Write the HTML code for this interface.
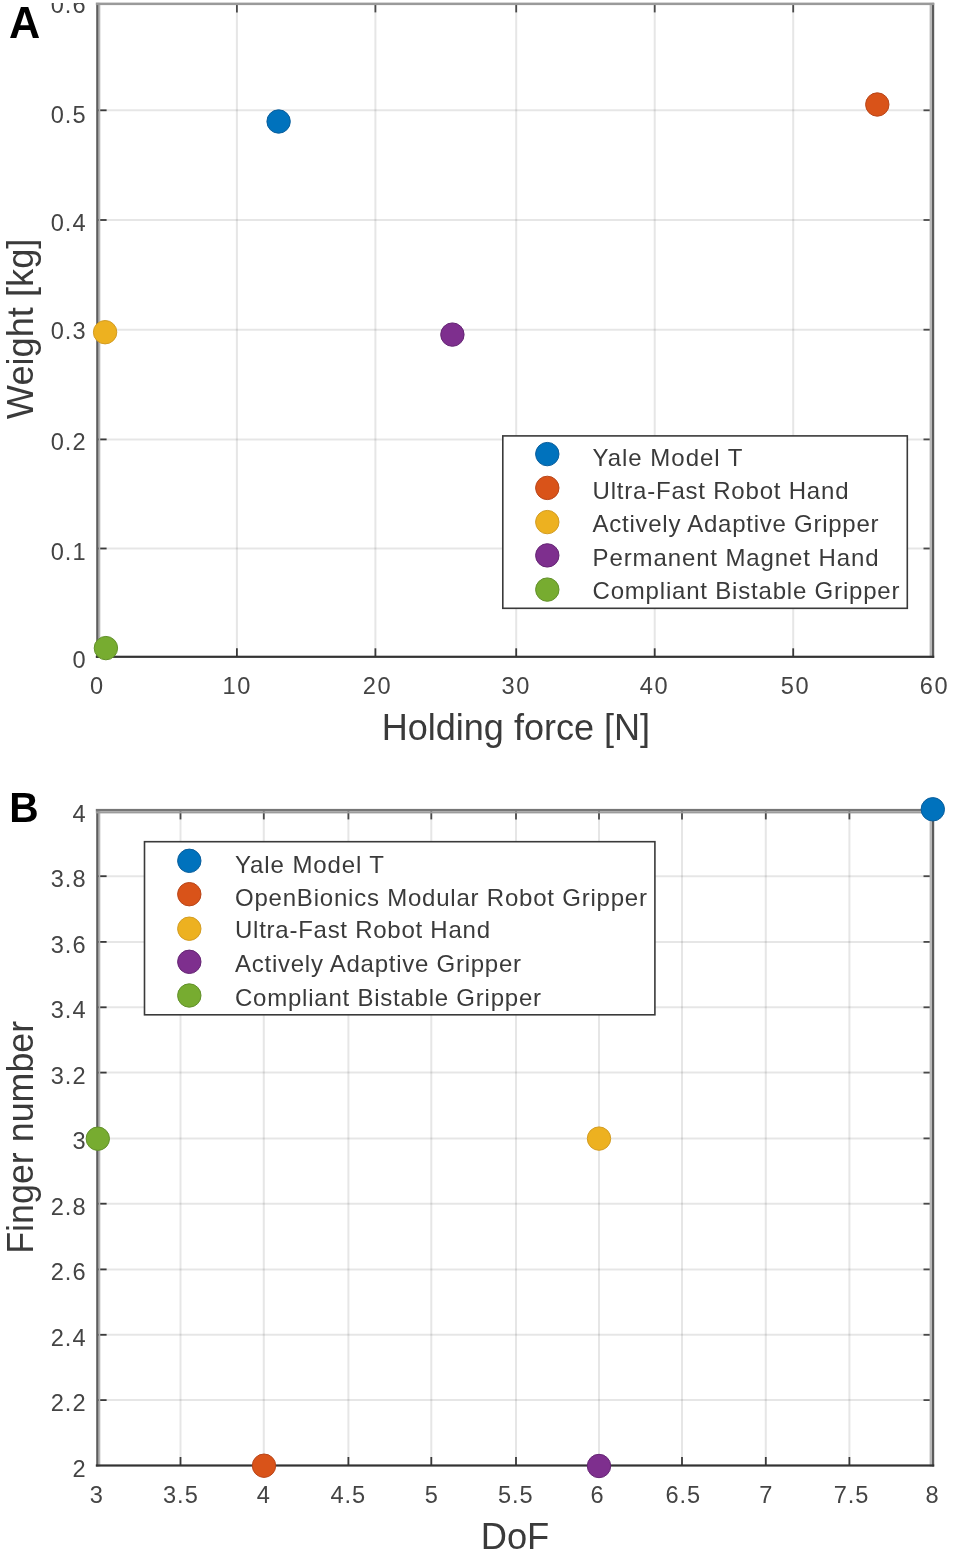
<!DOCTYPE html>
<html><head><meta charset="utf-8"><title>Gripper comparison charts</title>
<style>
html,body{margin:0;padding:0;background:#fff;}
body{width:955px;height:1562px;overflow:hidden;}
svg{display:block;font-family:"Liberation Sans", sans-serif;filter:blur(0.45px);}
</style></head>
<body>
<svg width="955" height="1562" viewBox="0 0 955 1562">
<rect width="955" height="1562" fill="#fff"/>
<line x1="236.9" y1="3.9" x2="236.9" y2="656.8" stroke="#262626" stroke-opacity="0.115" stroke-width="2"/>
<line x1="375.4" y1="3.9" x2="375.4" y2="656.8" stroke="#262626" stroke-opacity="0.115" stroke-width="2"/>
<line x1="516.2" y1="3.9" x2="516.2" y2="656.8" stroke="#262626" stroke-opacity="0.115" stroke-width="2"/>
<line x1="654.7" y1="3.9" x2="654.7" y2="656.8" stroke="#262626" stroke-opacity="0.115" stroke-width="2"/>
<line x1="793.2" y1="3.9" x2="793.2" y2="656.8" stroke="#262626" stroke-opacity="0.115" stroke-width="2"/>
<line x1="98.1" y1="110.3" x2="932.0" y2="110.3" stroke="#262626" stroke-opacity="0.115" stroke-width="2"/>
<line x1="98.1" y1="220" x2="932.0" y2="220" stroke="#262626" stroke-opacity="0.115" stroke-width="2"/>
<line x1="98.1" y1="329.7" x2="932.0" y2="329.7" stroke="#262626" stroke-opacity="0.115" stroke-width="2"/>
<line x1="98.1" y1="439.4" x2="932.0" y2="439.4" stroke="#262626" stroke-opacity="0.115" stroke-width="2"/>
<line x1="98.1" y1="548.5" x2="932.0" y2="548.5" stroke="#262626" stroke-opacity="0.115" stroke-width="2"/>
<line x1="236.9" y1="656.8" x2="236.9" y2="648.3" stroke="#3a3a3a" stroke-width="1.8"/>
<line x1="236.9" y1="3.9" x2="236.9" y2="12.4" stroke="#4a4a4a" stroke-width="1.8"/>
<line x1="375.4" y1="656.8" x2="375.4" y2="648.3" stroke="#3a3a3a" stroke-width="1.8"/>
<line x1="375.4" y1="3.9" x2="375.4" y2="12.4" stroke="#4a4a4a" stroke-width="1.8"/>
<line x1="516.2" y1="656.8" x2="516.2" y2="648.3" stroke="#3a3a3a" stroke-width="1.8"/>
<line x1="516.2" y1="3.9" x2="516.2" y2="12.4" stroke="#4a4a4a" stroke-width="1.8"/>
<line x1="654.7" y1="656.8" x2="654.7" y2="648.3" stroke="#3a3a3a" stroke-width="1.8"/>
<line x1="654.7" y1="3.9" x2="654.7" y2="12.4" stroke="#4a4a4a" stroke-width="1.8"/>
<line x1="793.2" y1="656.8" x2="793.2" y2="648.3" stroke="#3a3a3a" stroke-width="1.8"/>
<line x1="793.2" y1="3.9" x2="793.2" y2="12.4" stroke="#4a4a4a" stroke-width="1.8"/>
<line x1="98.1" y1="110.3" x2="106.6" y2="110.3" stroke="#3a3a3a" stroke-width="1.8"/>
<line x1="932.0" y1="110.3" x2="923.5" y2="110.3" stroke="#4a4a4a" stroke-width="1.8"/>
<line x1="98.1" y1="220" x2="106.6" y2="220" stroke="#3a3a3a" stroke-width="1.8"/>
<line x1="932.0" y1="220" x2="923.5" y2="220" stroke="#4a4a4a" stroke-width="1.8"/>
<line x1="98.1" y1="329.7" x2="106.6" y2="329.7" stroke="#3a3a3a" stroke-width="1.8"/>
<line x1="932.0" y1="329.7" x2="923.5" y2="329.7" stroke="#4a4a4a" stroke-width="1.8"/>
<line x1="98.1" y1="439.4" x2="106.6" y2="439.4" stroke="#3a3a3a" stroke-width="1.8"/>
<line x1="932.0" y1="439.4" x2="923.5" y2="439.4" stroke="#4a4a4a" stroke-width="1.8"/>
<line x1="98.1" y1="548.5" x2="106.6" y2="548.5" stroke="#3a3a3a" stroke-width="1.8"/>
<line x1="932.0" y1="548.5" x2="923.5" y2="548.5" stroke="#4a4a4a" stroke-width="1.8"/>
<rect x="96.19999999999999" y="2.9" width="2.5" height="654.9" fill="#5e5e5e"/>
<rect x="98.69999999999999" y="2.9" width="1.6" height="654.9" fill="#b4b4b4"/>
<rect x="929.6" y="2.9" width="2.4" height="654.9" fill="#b8b8b8"/>
<rect x="932.0" y="2.9" width="2.2" height="654.9" fill="#5c5c5c"/>
<rect x="95.8" y="2.6" width="838.4" height="2.5" fill="#9a9a9a"/>
<rect x="95.8" y="655.6999999999999" width="838.4" height="2.2" fill="#333"/>
<defs><clipPath id="topclip"><rect x="0" y="3" width="955" height="100"/></clipPath></defs>
<text x="85.5" y="13.4" font-size="23.6" text-anchor="end" font-weight="normal" fill="#444" textLength="34.77" lengthAdjust="spacing" clip-path="url(#topclip)">0.6</text>
<text x="85.5" y="122.8" font-size="23.6" text-anchor="end" font-weight="normal" fill="#444" textLength="34.77" lengthAdjust="spacing">0.5</text>
<text x="85.5" y="231.2" font-size="23.6" text-anchor="end" font-weight="normal" fill="#444" textLength="34.77" lengthAdjust="spacing">0.4</text>
<text x="85.5" y="339.4" font-size="23.6" text-anchor="end" font-weight="normal" fill="#444" textLength="34.77" lengthAdjust="spacing">0.3</text>
<text x="85.5" y="450" font-size="23.6" text-anchor="end" font-weight="normal" fill="#444" textLength="34.77" lengthAdjust="spacing">0.2</text>
<text x="85.5" y="560" font-size="23.6" text-anchor="end" font-weight="normal" fill="#444" textLength="34.77" lengthAdjust="spacing">0.1</text>
<text x="85.5" y="668.2" font-size="23.6" text-anchor="end" font-weight="normal" fill="#444">0</text>
<text x="96.5" y="694.2" font-size="23.6" text-anchor="middle" font-weight="normal" fill="#444">0</text>
<text x="236.4" y="694.2" font-size="23.6" text-anchor="middle" font-weight="normal" fill="#444" textLength="27.82" lengthAdjust="spacing">10</text>
<text x="376.7" y="694.2" font-size="23.6" text-anchor="middle" font-weight="normal" fill="#444" textLength="27.82" lengthAdjust="spacing">20</text>
<text x="515.5" y="694.2" font-size="23.6" text-anchor="middle" font-weight="normal" fill="#444" textLength="27.82" lengthAdjust="spacing">30</text>
<text x="653.6" y="694.2" font-size="23.6" text-anchor="middle" font-weight="normal" fill="#444" textLength="27.82" lengthAdjust="spacing">40</text>
<text x="794.7" y="694.2" font-size="23.6" text-anchor="middle" font-weight="normal" fill="#444" textLength="27.82" lengthAdjust="spacing">50</text>
<text x="933.6" y="694.2" font-size="23.6" text-anchor="middle" font-weight="normal" fill="#444" textLength="27.82" lengthAdjust="spacing">60</text>
<text x="515.9" y="740.4" font-size="36.3" text-anchor="middle" font-weight="normal" fill="#3a3a3a" textLength="268.5" lengthAdjust="spacingAndGlyphs">Holding force [N]</text>
<text transform="translate(32.6,328.9) rotate(-90)" font-size="36.3" text-anchor="middle" fill="#3a3a3a" textLength="180.5" lengthAdjust="spacingAndGlyphs">Weight [kg]</text>
<text x="9.0" y="37.9" font-size="43.5" text-anchor="start" font-weight="bold" fill="#000" textLength="31.2" lengthAdjust="spacingAndGlyphs">A</text>
<circle cx="278.6" cy="121.5" r="11.7" fill="#0072BD" stroke="#0a5e9c" stroke-width="1"/>
<circle cx="877.3" cy="104.5" r="11.7" fill="#D95319" stroke="#b9461a" stroke-width="1"/>
<circle cx="105.1" cy="332.2" r="11.7" fill="#EDB120" stroke="#d39c22" stroke-width="1"/>
<circle cx="452.4" cy="334.6" r="11.7" fill="#7E2F8E" stroke="#652574" stroke-width="1"/>
<circle cx="105.9" cy="648.1" r="11.7" fill="#77AC30" stroke="#62902a" stroke-width="1"/>
<rect x="502.8" y="435.9" width="404.49999999999994" height="172.39999999999998" fill="#fff" stroke="#3a3a3a" stroke-width="1.6"/>
<circle cx="547.3" cy="454.1" r="11.7" fill="#0072BD" stroke="#0a5e9c" stroke-width="1"/>
<text x="592.5" y="466.4" font-size="24" text-anchor="start" font-weight="normal" fill="#3a3a3a" textLength="150" lengthAdjust="spacing">Yale Model T</text>
<circle cx="547.3" cy="487.9" r="11.7" fill="#D95319" stroke="#b9461a" stroke-width="1"/>
<text x="592.5" y="499.2" font-size="24" text-anchor="start" font-weight="normal" fill="#3a3a3a" textLength="256" lengthAdjust="spacing">Ultra-Fast Robot Hand</text>
<circle cx="547.3" cy="522.1" r="11.7" fill="#EDB120" stroke="#d39c22" stroke-width="1"/>
<text x="592.5" y="532" font-size="24" text-anchor="start" font-weight="normal" fill="#3a3a3a" textLength="286" lengthAdjust="spacing">Actively Adaptive Gripper</text>
<circle cx="547.3" cy="555.4" r="11.7" fill="#7E2F8E" stroke="#652574" stroke-width="1"/>
<text x="592.5" y="566.2" font-size="24" text-anchor="start" font-weight="normal" fill="#3a3a3a" textLength="286" lengthAdjust="spacing">Permanent Magnet Hand</text>
<circle cx="547.3" cy="589.6" r="11.7" fill="#77AC30" stroke="#62902a" stroke-width="1"/>
<text x="592.5" y="599" font-size="24" text-anchor="start" font-weight="normal" fill="#3a3a3a" textLength="307" lengthAdjust="spacing">Compliant Bistable Gripper</text>
<line x1="180.5" y1="810.9" x2="180.5" y2="1465.5" stroke="#262626" stroke-opacity="0.115" stroke-width="2"/>
<line x1="263.8" y1="810.9" x2="263.8" y2="1465.5" stroke="#262626" stroke-opacity="0.115" stroke-width="2"/>
<line x1="348.4" y1="810.9" x2="348.4" y2="1465.5" stroke="#262626" stroke-opacity="0.115" stroke-width="2"/>
<line x1="431.3" y1="810.9" x2="431.3" y2="1465.5" stroke="#262626" stroke-opacity="0.115" stroke-width="2"/>
<line x1="516.0" y1="810.9" x2="516.0" y2="1465.5" stroke="#262626" stroke-opacity="0.115" stroke-width="2"/>
<line x1="599.0" y1="810.9" x2="599.0" y2="1465.5" stroke="#262626" stroke-opacity="0.115" stroke-width="2"/>
<line x1="682.0" y1="810.9" x2="682.0" y2="1465.5" stroke="#262626" stroke-opacity="0.115" stroke-width="2"/>
<line x1="765.8" y1="810.9" x2="765.8" y2="1465.5" stroke="#262626" stroke-opacity="0.115" stroke-width="2"/>
<line x1="849.4" y1="810.9" x2="849.4" y2="1465.5" stroke="#262626" stroke-opacity="0.115" stroke-width="2"/>
<line x1="98.1" y1="876.2" x2="932.0" y2="876.2" stroke="#262626" stroke-opacity="0.115" stroke-width="2"/>
<line x1="98.1" y1="941.9" x2="932.0" y2="941.9" stroke="#262626" stroke-opacity="0.115" stroke-width="2"/>
<line x1="98.1" y1="1007.3" x2="932.0" y2="1007.3" stroke="#262626" stroke-opacity="0.115" stroke-width="2"/>
<line x1="98.1" y1="1072.6" x2="932.0" y2="1072.6" stroke="#262626" stroke-opacity="0.115" stroke-width="2"/>
<line x1="98.1" y1="1138.4" x2="932.0" y2="1138.4" stroke="#262626" stroke-opacity="0.115" stroke-width="2"/>
<line x1="98.1" y1="1203.7" x2="932.0" y2="1203.7" stroke="#262626" stroke-opacity="0.115" stroke-width="2"/>
<line x1="98.1" y1="1269.4" x2="932.0" y2="1269.4" stroke="#262626" stroke-opacity="0.115" stroke-width="2"/>
<line x1="98.1" y1="1334.8" x2="932.0" y2="1334.8" stroke="#262626" stroke-opacity="0.115" stroke-width="2"/>
<line x1="98.1" y1="1400.1" x2="932.0" y2="1400.1" stroke="#262626" stroke-opacity="0.115" stroke-width="2"/>
<line x1="180.5" y1="1465.5" x2="180.5" y2="1457.0" stroke="#3a3a3a" stroke-width="1.8"/>
<line x1="180.5" y1="810.9" x2="180.5" y2="819.4" stroke="#4a4a4a" stroke-width="1.8"/>
<line x1="263.8" y1="1465.5" x2="263.8" y2="1457.0" stroke="#3a3a3a" stroke-width="1.8"/>
<line x1="263.8" y1="810.9" x2="263.8" y2="819.4" stroke="#4a4a4a" stroke-width="1.8"/>
<line x1="348.4" y1="1465.5" x2="348.4" y2="1457.0" stroke="#3a3a3a" stroke-width="1.8"/>
<line x1="348.4" y1="810.9" x2="348.4" y2="819.4" stroke="#4a4a4a" stroke-width="1.8"/>
<line x1="431.3" y1="1465.5" x2="431.3" y2="1457.0" stroke="#3a3a3a" stroke-width="1.8"/>
<line x1="431.3" y1="810.9" x2="431.3" y2="819.4" stroke="#4a4a4a" stroke-width="1.8"/>
<line x1="516.0" y1="1465.5" x2="516.0" y2="1457.0" stroke="#3a3a3a" stroke-width="1.8"/>
<line x1="516.0" y1="810.9" x2="516.0" y2="819.4" stroke="#4a4a4a" stroke-width="1.8"/>
<line x1="599.0" y1="1465.5" x2="599.0" y2="1457.0" stroke="#3a3a3a" stroke-width="1.8"/>
<line x1="599.0" y1="810.9" x2="599.0" y2="819.4" stroke="#4a4a4a" stroke-width="1.8"/>
<line x1="682.0" y1="1465.5" x2="682.0" y2="1457.0" stroke="#3a3a3a" stroke-width="1.8"/>
<line x1="682.0" y1="810.9" x2="682.0" y2="819.4" stroke="#4a4a4a" stroke-width="1.8"/>
<line x1="765.8" y1="1465.5" x2="765.8" y2="1457.0" stroke="#3a3a3a" stroke-width="1.8"/>
<line x1="765.8" y1="810.9" x2="765.8" y2="819.4" stroke="#4a4a4a" stroke-width="1.8"/>
<line x1="849.4" y1="1465.5" x2="849.4" y2="1457.0" stroke="#3a3a3a" stroke-width="1.8"/>
<line x1="849.4" y1="810.9" x2="849.4" y2="819.4" stroke="#4a4a4a" stroke-width="1.8"/>
<line x1="98.1" y1="876.2" x2="106.6" y2="876.2" stroke="#3a3a3a" stroke-width="1.8"/>
<line x1="932.0" y1="876.2" x2="923.5" y2="876.2" stroke="#4a4a4a" stroke-width="1.8"/>
<line x1="98.1" y1="941.9" x2="106.6" y2="941.9" stroke="#3a3a3a" stroke-width="1.8"/>
<line x1="932.0" y1="941.9" x2="923.5" y2="941.9" stroke="#4a4a4a" stroke-width="1.8"/>
<line x1="98.1" y1="1007.3" x2="106.6" y2="1007.3" stroke="#3a3a3a" stroke-width="1.8"/>
<line x1="932.0" y1="1007.3" x2="923.5" y2="1007.3" stroke="#4a4a4a" stroke-width="1.8"/>
<line x1="98.1" y1="1072.6" x2="106.6" y2="1072.6" stroke="#3a3a3a" stroke-width="1.8"/>
<line x1="932.0" y1="1072.6" x2="923.5" y2="1072.6" stroke="#4a4a4a" stroke-width="1.8"/>
<line x1="98.1" y1="1138.4" x2="106.6" y2="1138.4" stroke="#3a3a3a" stroke-width="1.8"/>
<line x1="932.0" y1="1138.4" x2="923.5" y2="1138.4" stroke="#4a4a4a" stroke-width="1.8"/>
<line x1="98.1" y1="1203.7" x2="106.6" y2="1203.7" stroke="#3a3a3a" stroke-width="1.8"/>
<line x1="932.0" y1="1203.7" x2="923.5" y2="1203.7" stroke="#4a4a4a" stroke-width="1.8"/>
<line x1="98.1" y1="1269.4" x2="106.6" y2="1269.4" stroke="#3a3a3a" stroke-width="1.8"/>
<line x1="932.0" y1="1269.4" x2="923.5" y2="1269.4" stroke="#4a4a4a" stroke-width="1.8"/>
<line x1="98.1" y1="1334.8" x2="106.6" y2="1334.8" stroke="#3a3a3a" stroke-width="1.8"/>
<line x1="932.0" y1="1334.8" x2="923.5" y2="1334.8" stroke="#4a4a4a" stroke-width="1.8"/>
<line x1="98.1" y1="1400.1" x2="106.6" y2="1400.1" stroke="#3a3a3a" stroke-width="1.8"/>
<line x1="932.0" y1="1400.1" x2="923.5" y2="1400.1" stroke="#4a4a4a" stroke-width="1.8"/>
<rect x="96.19999999999999" y="809.9" width="2.5" height="656.6" fill="#5e5e5e"/>
<rect x="98.69999999999999" y="809.9" width="1.6" height="656.6" fill="#b4b4b4"/>
<rect x="929.6" y="809.9" width="2.4" height="656.6" fill="#b8b8b8"/>
<rect x="932.0" y="809.9" width="2.2" height="656.6" fill="#5c5c5c"/>
<rect x="95.8" y="808.9" width="838.4" height="2.4" fill="#767676"/>
<rect x="95.8" y="811.3" width="838.4" height="2.1" fill="#9c9c9c"/>
<rect x="95.8" y="1464.4" width="838.4" height="2.2" fill="#333"/>
<text x="85.5" y="821.6" font-size="23.6" text-anchor="end" font-weight="normal" fill="#444">4</text>
<text x="85.5" y="887.1" font-size="23.6" text-anchor="end" font-weight="normal" fill="#444" textLength="34.77" lengthAdjust="spacing">3.8</text>
<text x="85.5" y="952.6" font-size="23.6" text-anchor="end" font-weight="normal" fill="#444" textLength="34.77" lengthAdjust="spacing">3.6</text>
<text x="85.5" y="1018.2" font-size="23.6" text-anchor="end" font-weight="normal" fill="#444" textLength="34.77" lengthAdjust="spacing">3.4</text>
<text x="85.5" y="1083.7" font-size="23.6" text-anchor="end" font-weight="normal" fill="#444" textLength="34.77" lengthAdjust="spacing">3.2</text>
<text x="85.5" y="1149.2" font-size="23.6" text-anchor="end" font-weight="normal" fill="#444">3</text>
<text x="85.5" y="1214.7" font-size="23.6" text-anchor="end" font-weight="normal" fill="#444" textLength="34.77" lengthAdjust="spacing">2.8</text>
<text x="85.5" y="1280.2" font-size="23.6" text-anchor="end" font-weight="normal" fill="#444" textLength="34.77" lengthAdjust="spacing">2.6</text>
<text x="85.5" y="1345.8" font-size="23.6" text-anchor="end" font-weight="normal" fill="#444" textLength="34.77" lengthAdjust="spacing">2.4</text>
<text x="85.5" y="1411.3" font-size="23.6" text-anchor="end" font-weight="normal" fill="#444" textLength="34.77" lengthAdjust="spacing">2.2</text>
<text x="85.5" y="1476.8" font-size="23.6" text-anchor="end" font-weight="normal" fill="#444">2</text>
<text x="96.3" y="1502.5" font-size="23.6" text-anchor="middle" font-weight="normal" fill="#444">3</text>
<text x="180.4" y="1502.5" font-size="23.6" text-anchor="middle" font-weight="normal" fill="#444" textLength="34.77" lengthAdjust="spacing">3.5</text>
<text x="263.3" y="1502.5" font-size="23.6" text-anchor="middle" font-weight="normal" fill="#444">4</text>
<text x="347.8" y="1502.5" font-size="23.6" text-anchor="middle" font-weight="normal" fill="#444" textLength="34.77" lengthAdjust="spacing">4.5</text>
<text x="431.2" y="1502.5" font-size="23.6" text-anchor="middle" font-weight="normal" fill="#444">5</text>
<text x="515.3" y="1502.5" font-size="23.6" text-anchor="middle" font-weight="normal" fill="#444" textLength="34.77" lengthAdjust="spacing">5.5</text>
<text x="597.1" y="1502.5" font-size="23.6" text-anchor="middle" font-weight="normal" fill="#444">6</text>
<text x="682.8" y="1502.5" font-size="23.6" text-anchor="middle" font-weight="normal" fill="#444" textLength="34.77" lengthAdjust="spacing">6.5</text>
<text x="765.7" y="1502.5" font-size="23.6" text-anchor="middle" font-weight="normal" fill="#444">7</text>
<text x="851.1" y="1502.5" font-size="23.6" text-anchor="middle" font-weight="normal" fill="#444" textLength="34.77" lengthAdjust="spacing">7.5</text>
<text x="932.1" y="1502.5" font-size="23.6" text-anchor="middle" font-weight="normal" fill="#444">8</text>
<text x="515" y="1549.2" font-size="36.3" text-anchor="middle" font-weight="normal" fill="#3a3a3a" textLength="68.5" lengthAdjust="spacing">DoF</text>
<text transform="translate(33,1137.3) rotate(-90)" font-size="36.3" text-anchor="middle" fill="#3a3a3a" textLength="233" lengthAdjust="spacingAndGlyphs">Finger number</text>
<text x="9.2" y="821.9" font-size="43" text-anchor="start" font-weight="bold" fill="#000" textLength="29.4" lengthAdjust="spacingAndGlyphs">B</text>
<rect x="144.5" y="841.7" width="510.4" height="173.0999999999999" fill="#fff" stroke="#3a3a3a" stroke-width="1.6"/>
<circle cx="189.3" cy="860.8" r="11.7" fill="#0072BD" stroke="#0a5e9c" stroke-width="1"/>
<text x="235" y="872.9" font-size="24" text-anchor="start" font-weight="normal" fill="#3a3a3a" textLength="149" lengthAdjust="spacing">Yale Model T</text>
<circle cx="189.3" cy="894.2" r="11.7" fill="#D95319" stroke="#b9461a" stroke-width="1"/>
<text x="235" y="905.5" font-size="24" text-anchor="start" font-weight="normal" fill="#3a3a3a" textLength="412" lengthAdjust="spacing">OpenBionics Modular Robot Gripper</text>
<circle cx="189.3" cy="928.7" r="11.7" fill="#EDB120" stroke="#d39c22" stroke-width="1"/>
<text x="235" y="938.2" font-size="24" text-anchor="start" font-weight="normal" fill="#3a3a3a" textLength="255" lengthAdjust="spacing">Ultra-Fast Robot Hand</text>
<circle cx="189.3" cy="961.8" r="11.7" fill="#7E2F8E" stroke="#652574" stroke-width="1"/>
<text x="235" y="972.3" font-size="24" text-anchor="start" font-weight="normal" fill="#3a3a3a" textLength="286" lengthAdjust="spacing">Actively Adaptive Gripper</text>
<circle cx="189.3" cy="995.5" r="11.7" fill="#77AC30" stroke="#62902a" stroke-width="1"/>
<text x="235" y="1005.9" font-size="24" text-anchor="start" font-weight="normal" fill="#3a3a3a" textLength="306" lengthAdjust="spacing">Compliant Bistable Gripper</text>
<circle cx="932.8" cy="809.3" r="11.7" fill="#0072BD" stroke="#0a5e9c" stroke-width="1"/>
<circle cx="264" cy="1465.7" r="11.7" fill="#D95319" stroke="#b9461a" stroke-width="1"/>
<circle cx="599" cy="1138.6" r="11.7" fill="#EDB120" stroke="#d39c22" stroke-width="1"/>
<circle cx="599" cy="1466" r="11.7" fill="#7E2F8E" stroke="#652574" stroke-width="1"/>
<circle cx="97.8" cy="1138.7" r="11.7" fill="#77AC30" stroke="#62902a" stroke-width="1"/>
</svg>
</body></html>
